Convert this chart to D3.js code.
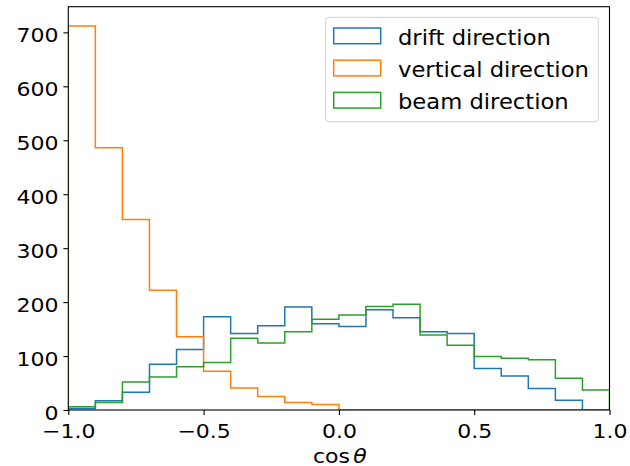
<!DOCTYPE html>
<html>
<head>
<meta charset="utf-8">
<script src="https://cdn.jsdelivr.net/npm/d3@7"></script>
<style>
  body { margin: 0; background: #fff; }
  svg { display: block; font-family: "DejaVu Sans", sans-serif; }
</style>
</head>
<body>
<svg id="chart" width="630" height="466"></svg>
<script>
const binEdges = d3.range(21).map(i => -1 + i * 0.1);
const seriesNames = ["drift direction", "vertical direction", "beam direction"];
const driftValues = [3, 17, 33, 85, 112, 173, 142, 156, 191, 160, 155, 186, 171, 145, 142, 77, 63, 40, 18, 0];
const verticalValues = [712, 486, 353, 222, 136, 72, 41, 25, 14, 10, 0, 0, 0, 0, 0, 0, 0, 0, 0, 0];
const beamValues = [6, 14, 52, 61, 80, 88, 133, 124, 145, 168, 176, 192, 196, 139, 120, 99, 96, 93, 59, 37];
const colors = ["#1f77b4", "#ff7f0e", "#2ca02c"];
const xTicks = [-1.0, -0.5, 0.0, 0.5, 1.0];
const yTicks = [0, 100, 200, 300, 400, 500, 600, 700];

const svg = d3.select("#chart");
const pL = 68.3, pR = 609.5, pT = 6.7, pB = 410;
const yMax = 1.05 * d3.max([driftValues, verticalValues, beamValues].flat());
const x = d3.scaleLinear().domain([-1, 1]).range([pL, pR]);
const y = d3.scaleLinear().domain([0, yMax]).range([pB, pT]);

const fs = 20;       // font size (vertical)
const sx = 1.1;      // horizontal stretch of the reference

svg.append("defs").append("clipPath").attr("id", "plotclip")
  .append("rect").attr("x", pL).attr("y", pT).attr("width", pR - pL).attr("height", pB - pT);

// step lines
const allSeries = [driftValues, verticalValues, beamValues];
const line = d3.line().x(d => x(d[0])).y(d => y(d[1]));
const plot = svg.append("g").attr("clip-path", "url(#plotclip)");
allSeries.forEach((vals, si) => {
  const pts = [[binEdges[0], 0]];
  vals.forEach((v, i) => { pts.push([binEdges[i], v]); pts.push([binEdges[i + 1], v]); });
  pts.push([binEdges[binEdges.length - 1], 0]);
  plot.append("path")
    .attr("d", line(pts))
    .attr("fill", "none")
    .attr("stroke", colors[si])
    .attr("stroke-width", 1.5)
    .attr("stroke-linejoin", "miter");
});

// axes
const tickLen = 4.9, pad = 4.9;
const xAxis = d3.axisBottom(x).tickValues(xTicks)
  .tickFormat(d => d3.format(".1f")(d).replace("-", "\u2212"))
  .tickSize(tickLen).tickPadding(pad);
const yAxis = d3.axisLeft(y).tickValues(yTicks).tickSize(tickLen).tickPadding(pad);

const gx = svg.append("g").attr("transform", `translate(0,${pB})`).call(xAxis);
const gy = svg.append("g").attr("transform", `translate(${pL},0)`).call(yAxis);
[gx, gy].forEach(g => {
  g.select(".domain").remove();
  g.selectAll(".tick line").attr("stroke", "#000").attr("stroke-width", 1.1);
  g.selectAll(".tick text").attr("fill", "#000").style("font-size", fs + "px")
    .style("font-family", "'DejaVu Sans', sans-serif")
    .attr("transform", `scale(${sx},1)`);
});
gx.selectAll(".tick text").attr("y", 28).attr("dy", 0);
gy.selectAll(".tick text").attr("x", -(tickLen + pad) / sx).attr("dy", "0.45em");

// frame
svg.append("rect")
  .attr("x", pL).attr("y", pT)
  .attr("width", pR - pL).attr("height", pB - pT)
  .attr("fill", "none").attr("stroke", "#000").attr("stroke-width", 1.1);

// x label
const xl = svg.append("text")
  .attr("transform", `translate(${(pL + pR) / 2 + 1},463) scale(${sx},1)`)
  .attr("text-anchor", "middle")
  .style("font-size", fs + "px").attr("fill", "#000");
xl.append("tspan").text("cos");
xl.append("tspan").attr("dx", 3).style("font-style", "italic").text("θ");

// legend
const lg = svg.append("g");
lg.append("rect")
  .attr("x", 325.7).attr("y", 17.3).attr("width", 272.6).attr("height", 104.4)
  .attr("rx", 3).attr("fill", "#fff").attr("fill-opacity", 0.8)
  .attr("stroke", "#d0d0d0").attr("stroke-width", 1);
seriesNames.forEach((name, i) => {
  const yy = 28 + i * 32.2;
  lg.append("rect")
    .attr("x", 333.7).attr("y", yy).attr("width", 47).attr("height", 15.7)
    .attr("fill", "none").attr("stroke", colors[i]).attr("stroke-width", 1.5);
  lg.append("text")
    .attr("transform", `translate(398,${yy + 16.8}) scale(${sx},1)`)
    .style("font-size", (fs + 0.6) + "px").attr("fill", "#000")
    .text(name);
});
</script>
</body>
</html>
